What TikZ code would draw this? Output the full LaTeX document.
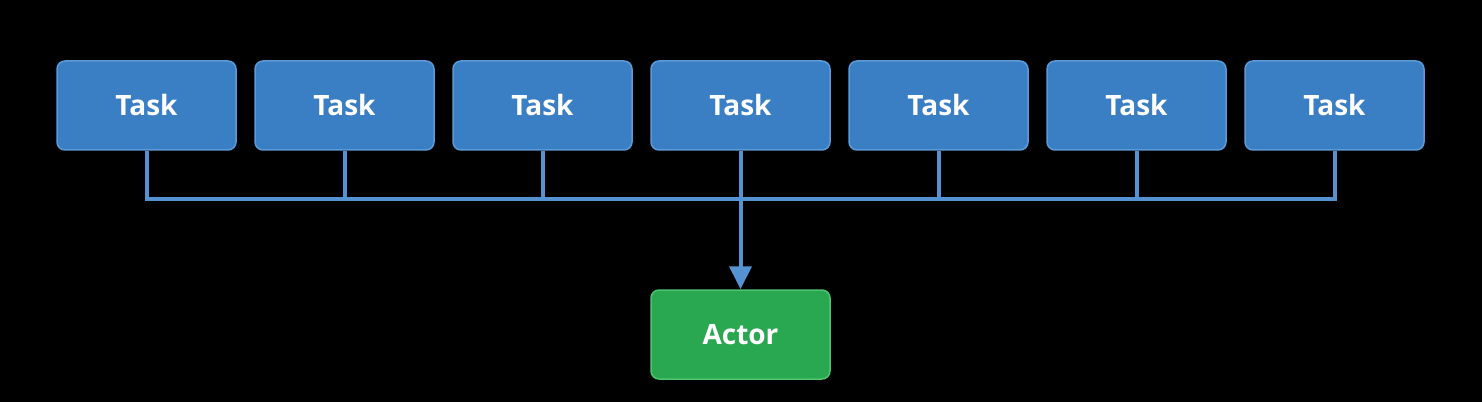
\documentclass[tikz,border=0pt]{standalone}
\usepackage{fontspec}
\setmainfont{Open Sans}
\usepackage{tikz}
\usepackage{xcolor}
\usetikzlibrary{positioning}
\usetikzlibrary{arrows.meta}

\definecolor{task-fill}{HTML}{3A7EC4}
\definecolor{task-edge}{HTML}{5B9BD9}
\definecolor{bus-blue}{HTML}{5592D2}
\definecolor{actor-fill}{HTML}{2AA851}
\definecolor{actor-edge}{HTML}{4DC46E}

\begin{document}
\begin{tikzpicture}
[
task-box/.style={rectangle, rounded corners = 4pt, draw = task-edge, fill = task-fill, line width = 0.75pt,
  minimum width = 89.5pt, minimum height = 44.5pt, inner sep = 0pt, text = white, font = \fontsize{14}{16}\selectfont\bfseries},
actor-box/.style={task-box, draw = actor-edge, fill = actor-fill},
bus-a/.style={draw = bus-blue, line width = 2pt},
bus-b/.style={bus-a, -{Triangle[length=11.5pt, width=11pt]}}
]
% black page
\fill [black] (0,0) rectangle (741pt,201pt);
\useasboundingbox (0,0) rectangle (741pt,201pt);
% tasks
\node (task-1) [task-box] at (73.25pt,148.25pt) {Task};
\node (task-2) [task-box, right = 8.75pt of task-1] {Task};
\node (task-3) [task-box, right = 8.75pt of task-2] {Task};
\node (task-4) [task-box, right = 8.75pt of task-3] {Task};
\node (task-5) [task-box, right = 8.75pt of task-4] {Task};
\node (task-6) [task-box, right = 8.75pt of task-5] {Task};
\node (task-7) [task-box, right = 8.75pt of task-6] {Task};
\node (actor)  [actor-box, below = 69.25pt of task-4] {Actor};
\coordinate (bus) at ([yshift=-24pt]task-4.south);
% connectors
\draw [bus-a] (task-1.south) -- (task-1.south |- bus) -- (task-7.south |- bus) -- (task-7.south);
\draw [bus-a] (task-2.south) -- (task-2.south |- bus);
\draw [bus-a] (task-3.south) -- (task-3.south |- bus);
\draw [bus-a] (task-5.south) -- (task-5.south |- bus);
\draw [bus-a] (task-6.south) -- (task-6.south |- bus);
\draw [bus-b] (task-4.south) -- (actor.north);
\end{tikzpicture}
\end{document}
